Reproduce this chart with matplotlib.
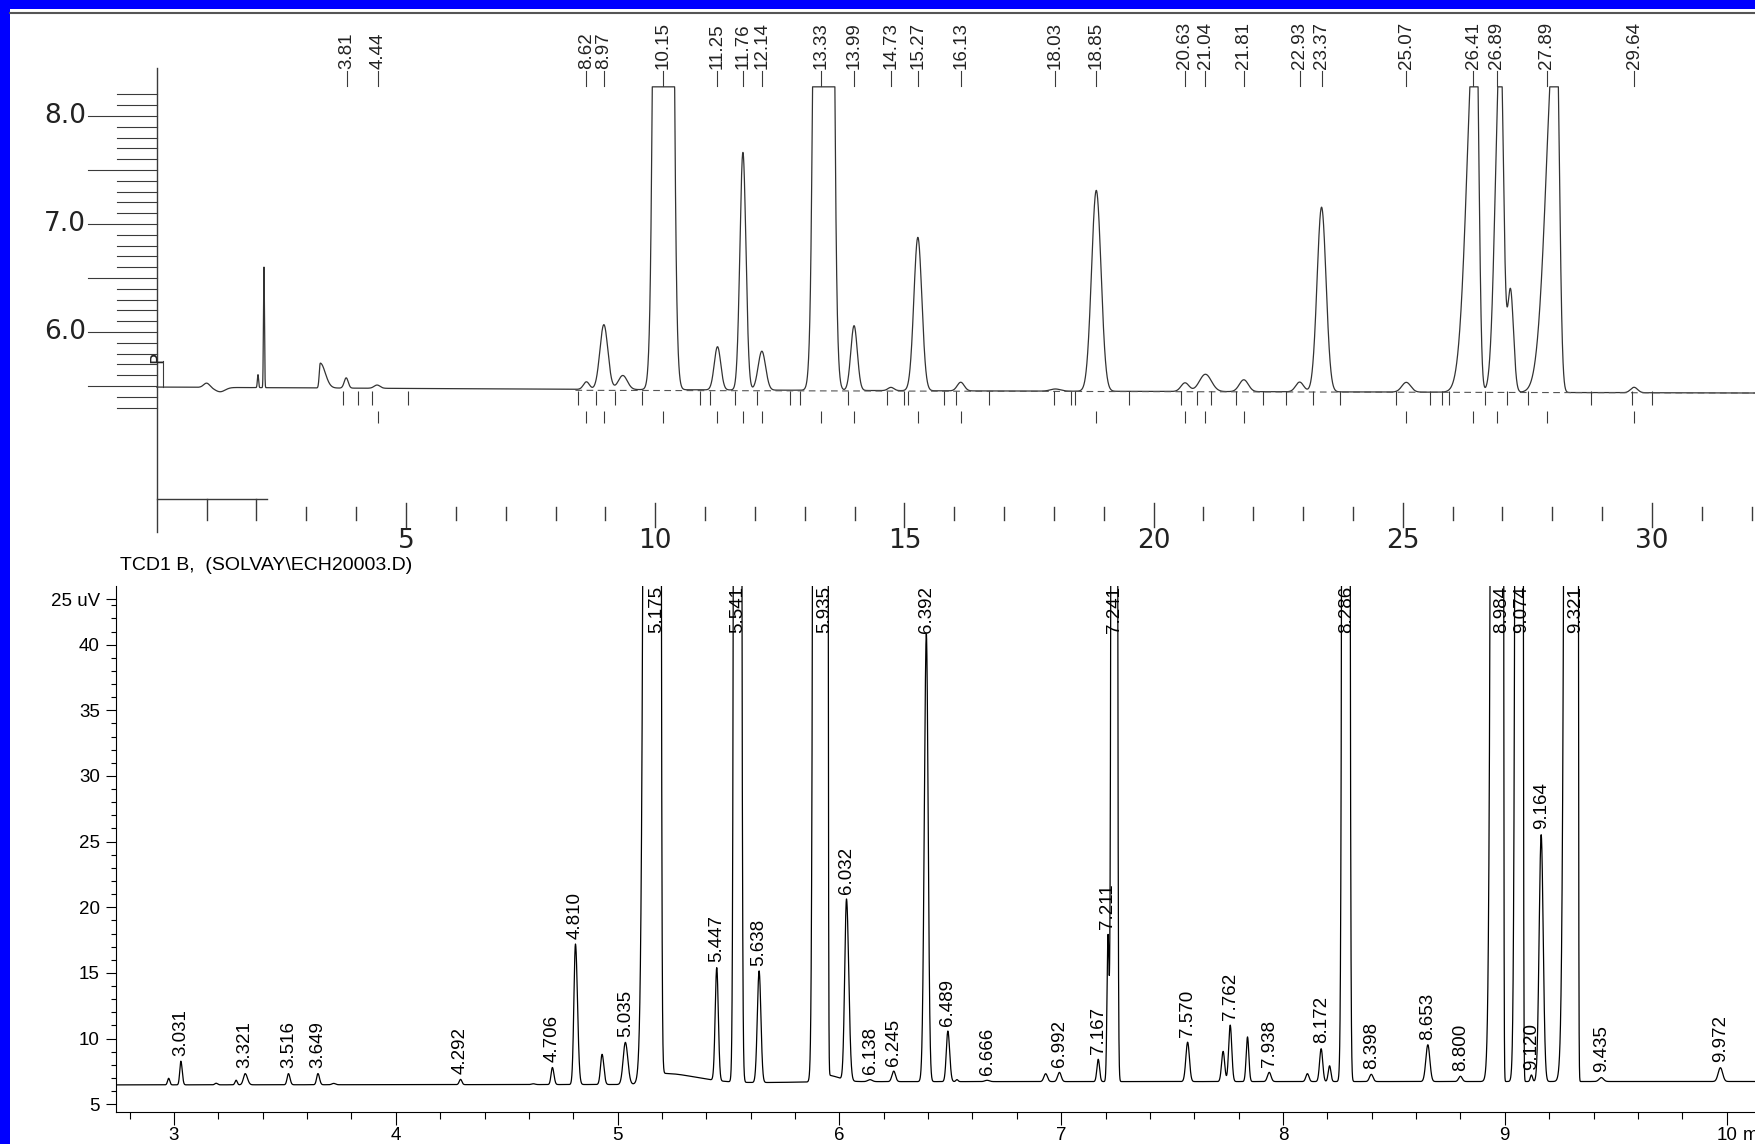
import numpy as np
import matplotlib
matplotlib.use("Agg")
import matplotlib.pyplot as plt
from matplotlib import font_manager
from matplotlib.patches import Rectangle
from matplotlib.lines import Line2D
from matplotlib.ticker import FixedLocator

# ---- upper chromatogram (scanned recorder trace), minutes vs signal ----
top_rt = [1.00, 1.27, 2.03, 2.15, 3.28, 3.80, 4.42, 8.62, 8.97, 9.35, 10.165, 11.25,
          11.76, 12.14, 13.38, 13.99, 14.73, 15.27, 16.13, 18.03, 18.85, 20.63, 21.04,
          21.81, 22.93, 23.37, 25.07, 26.47, 26.96, 27.16, 28.08, 29.64]
top_height = [0.04, -0.04, 0.12, 1.12, 0.23, 0.095, 0.03, 0.07, 0.6, 0.13, 47.0, 0.4,
              2.2, 0.36, 47.0, 0.6, 0.03, 1.42, 0.08, 0.02, 1.86, 0.08, 0.16,
              0.11, 0.09, 1.71, 0.09, 3.7, 3.3, 0.95, 3.6, 0.05]
top_sig_l = [0.06, 0.1, 0.012, 0.01, 0.02, 0.04, 0.06, 0.06, 0.08, 0.09, 0.095, 0.065,
             0.06, 0.075, 0.095, 0.065, 0.06, 0.08, 0.07, 0.1, 0.095, 0.08, 0.12,
             0.09, 0.08, 0.09, 0.09, 0.17, 0.1, 0.06, 0.19, 0.07]
top_sig_r = [0.06, 0.1, 0.012, 0.01, 0.1, 0.04, 0.06, 0.06, 0.08, 0.09, 0.095, 0.065,
             0.06, 0.075, 0.095, 0.065, 0.06, 0.08, 0.07, 0.1, 0.095, 0.08, 0.12,
             0.09, 0.08, 0.09, 0.09, 0.055, 0.06, 0.06, 0.06, 0.07]
top_base_t = [0, 8, 16, 32.1]
top_base_v = [5.49, 5.47, 5.455, 5.435]
top_clip = 8.27
top_labels = [3.81, 4.44, 8.62, 8.97, 10.15, 11.25, 11.76, 12.14, 13.33, 13.99, 14.73,
              15.27, 16.13, 18.03, 18.85, 20.63, 21.04, 21.81, 22.93, 23.37, 25.07,
              26.41, 26.89, 27.89, 29.64]
top_events = [3.73, 4.04, 4.31, 5.04, 8.46, 8.82, 9.2, 9.74, 10.89, 11.1, 11.61, 12.05,
              12.7, 12.91, 13.86, 14.65, 15.0, 15.08, 15.8, 16.04, 16.7, 18.0, 18.35,
              18.43, 19.5, 20.54, 20.88, 21.16, 21.65, 22.2, 22.66, 23.2, 23.75, 24.86,
              25.54, 25.78, 25.93, 26.65, 27.09, 27.52, 28.77, 29.6, 30.0]
top_marks = [4.44, 8.62, 8.97, 10.15, 11.25, 11.76, 12.14, 13.33, 13.99, 15.27, 16.13,
             18.85, 20.63, 21.04, 21.81, 25.07, 26.41, 26.89, 27.89, 29.64]

# ---- lower chromatogram (TCD1 B) ----
bot_rt = [2.976, 3.031, 3.19, 3.28, 3.321, 3.516, 3.649, 3.72, 4.292, 4.62, 4.706, 4.810,
          4.93, 5.035, 5.175, 5.20, 5.447, 5.541, 5.638, 5.904, 5.94, 5.945, 6.032, 6.138,
          6.245, 6.392, 6.489, 6.53, 6.666, 6.93, 6.992, 7.167, 7.211, 7.241, 7.570,
          7.73, 7.762, 7.84, 7.938, 8.11, 8.172, 8.21, 8.286, 8.398, 8.653, 8.800,
          8.984, 9.074, 9.120, 9.164, 9.321, 9.435, 9.972]
bot_height = [0.5, 1.8, 0.12, 0.35, 0.85, 0.85, 0.85, 0.1, 0.4, 0.06, 1.3, 10.7,
              2.3, 3.2, 2000, 0.8, 8.6, 800, 8.5, 800, 800, 0.5, 13.8, 0.15,
              0.8, 34.1, 3.85, 0.15, 0.1, 0.6, 0.7, 1.7, 11.0, 600, 3.0,
              2.3, 4.3, 3.4, 0.7, 0.6, 2.5, 1.2, 800, 0.55, 2.8, 0.4,
              2000, 800, 0.5, 18.8, 2000, 0.3, 1.05]
bot_sig_l = [0.005, 0.005, 0.006, 0.005, 0.008, 0.006, 0.006, 0.008, 0.006, 0.008, 0.006, 0.007,
             0.007, 0.01, 0.022, 0.01, 0.007, 0.008, 0.008, 0.0104, 0.0104, 0.005, 0.008, 0.01,
             0.008, 0.009, 0.007, 0.005, 0.01, 0.008, 0.008, 0.006, 0.0045, 0.0075, 0.008,
             0.007, 0.007, 0.006, 0.008, 0.007, 0.007, 0.006, 0.009, 0.008, 0.009, 0.008,
             0.018, 0.012, 0.005, 0.009, 0.02, 0.01, 0.01]
bot_sig_r = [0.005, 0.006, 0.006, 0.005, 0.01, 0.007, 0.007, 0.008, 0.006, 0.008, 0.007, 0.009,
             0.008, 0.011, 0.008, 0.15, 0.007, 0.008, 0.008, 0.0104, 0.004, 0.05, 0.01, 0.01,
             0.008, 0.008, 0.008, 0.005, 0.01, 0.008, 0.008, 0.006, 0.0045, 0.006, 0.008,
             0.007, 0.007, 0.006, 0.008, 0.007, 0.007, 0.006, 0.007, 0.008, 0.009, 0.008,
             0.004, 0.004, 0.005, 0.009, 0.004, 0.01, 0.01]
bot_base_t = [2.7, 5.0, 6.0, 10.2]
bot_base_v = [6.47, 6.5, 6.72, 6.73]
bot_labels = [3.031, 3.321, 3.516, 3.649, 4.292, 4.706, 4.810, 5.035, 5.175, 5.447, 5.541,
              5.638, 5.935, 6.032, 6.138, 6.245, 6.392, 6.489, 6.666, 6.992, 7.167, 7.211,
              7.241, 7.570, 7.762, 7.938, 8.172, 8.286, 8.398, 8.653, 8.800, 8.984, 9.074,
              9.120, 9.164, 9.321, 9.435, 9.972]


def peaks(t, rts, hts, sl, sr):
    y = np.zeros_like(t)
    for c, h, a, b in zip(rts, hts, sl, sr):
        s = np.where(t < c, a, b)
        y += h * np.exp(-0.5 * ((t - c) / s) ** 2)
    return y


# narrow font for the recorder labels if one is installed
installed = {f.name for f in font_manager.fontManager.ttflist}
if "Liberation Sans Narrow" in installed:
    narrow, narrow_size = "Liberation Sans Narrow", 15
else:
    narrow, narrow_size = "Liberation Sans", 13.5

W, H = 1756, 1144
fig = plt.figure(figsize=(W / 100, H / 100), dpi=100, facecolor="#0000ff")
fig.patches.append(Rectangle((10 / W, 0), 1, 1 - 9 / H, transform=fig.transFigure,
                             facecolor="white", edgecolor="none", zorder=-10))
fig.add_artist(Line2D([10 / W, 1], [1 - 12.5 / H] * 2, color="#555555", lw=1.5, zorder=-5))

# ---------------- upper panel ----------------
PX = 49.84          # pixels per minute
def V(ypx):         # pixel row -> signal value of the scanned plot
    return 8 - (ypx - 116) / 108.0

ax1 = fig.add_axes([10 / W, 1 - 548 / H, 1 - 10 / W, (548 - 12) / H])
ax1.set_xlim((10 - 156.8) / PX, (W - 156.8) / PX)
ax1.set_ylim(V(548), V(12))
ax1.axis("off")
ink = "#3a3a3a"

t1 = np.linspace(0, 32.1, 16000)
y1 = np.interp(t1, top_base_t, top_base_v) + peaks(t1, top_rt, top_height, top_sig_l, top_sig_r)
ax1.plot(t1, np.minimum(y1, top_clip), color="#333333", lw=0.9)
ax1.plot([8.4, 32.1], [5.46, 5.435], color="#555555", lw=0.8, ls=(0, (6, 4)))

# y axis with recorder ticks
ax1.plot([0, 0], [V(68), V(532)], color=ink, lw=1.0)
for v in np.round(np.arange(5.3, 8.25, 0.1), 1):
    start = (88 - 156.8) / PX if abs(v * 2 - round(v * 2)) < 1e-6 else (117 - 156.8) / PX
    ax1.plot([start, 0], [v, v], color=ink, lw=0.8)
for v in (6.0, 7.0, 8.0):
    ax1.text((86 - 156.8) / PX, v, "%.1f" % v, ha="right", va="center", fontsize=19,
             family="DejaVu Sans", color="#222222")

# x axis
ax1.plot([0, 2.21], [V(499)] * 2, color=ink, lw=1.0)
for m in range(1, 33):
    if m <= 2:
        lo, hi = V(520), V(499)
    elif m % 5 == 0:
        lo, hi = V(527), V(503)
    else:
        lo, hi = V(520), V(507)
    ax1.plot([m, m], [lo, hi], color=ink, lw=1.0)
for m in range(5, 31, 5):
    ax1.text(m, V(541), str(m), ha="center", va="center", fontsize=19,
             family="DejaVu Sans", color="#222222")

# retention-time labels and integration marks
for r in top_labels:
    ax1.plot([r, r], [V(86), V(71)], color=ink, lw=0.8)
    ax1.text(r, V(69), "%.2f" % r, rotation=90, ha="center", va="bottom",
             fontsize=narrow_size, family=narrow, color="#222222")
ax1.vlines(top_events, V(405), V(391), color=ink, lw=0.8)
ax1.vlines(top_marks, V(423), V(411), color=ink, lw=0.8)
ax1.plot([0.12, 0.12], [V(387), V(361)], color=ink, lw=0.8)
ax1.text(0.0, V(358), "P", rotation=90, ha="center", va="center", fontsize=13,
         family="DejaVu Sans", color="#222222")

# ---------------- lower panel ----------------
XPX = 221.8
YPX = 13.13
def BX(xpx):
    return 3 + (xpx - 174) / XPX
def BV(ypx):
    return 5 + (1104.2 - ypx) / YPX

ax2 = fig.add_axes([116 / W, 1 - 1112 / H, (W - 116) / W, (1112 - 586) / H])
ax2.set_facecolor("none")
ax2.set_xlim(BX(116), BX(W))
ax2.set_ylim(BV(1112), BV(586))

t2 = np.linspace(BX(116), BX(W), 30000)
y2 = np.interp(t2, bot_base_t, bot_base_v) + peaks(t2, bot_rt, bot_height, bot_sig_l, bot_sig_r)
ax2.plot(t2, y2, color="black", lw=0.9)

lab = np.array(bot_labels)
apex = np.interp(lab, bot_base_t, bot_base_v) + peaks(lab, bot_rt, bot_height, bot_sig_l, bot_sig_r)
for r, a in zip(bot_labels, apex):
    ax2.text(r, min(a + 0.4, 40.9), "%.3f" % r, rotation=90, ha="center", va="bottom",
             fontsize=13.5, family="Liberation Sans", color="black")

for s in ("top", "right"):
    ax2.spines[s].set_visible(False)
for s in ("left", "bottom"):
    ax2.spines[s].set_linewidth(0.8)

ax2.set_xticks(range(3, 11))
ax2.set_xticklabels([str(i) for i in range(3, 11)])
ax2.xaxis.set_minor_locator(FixedLocator(np.round(np.arange(2.8, 10.1, 0.2), 1)))
ax2.set_yticks([5, 10, 15, 20, 25, 30, 35, 40, BV(599)])
ax2.set_yticklabels(["5", "10", "15", "20", "25", "30", "35", "40", "25 uV"])
ax2.yaxis.set_minor_locator(FixedLocator(range(6, 44)))
ax2.tick_params(axis="x", which="major", length=9.4, width=0.8, pad=1.5, labelsize=13.5)
ax2.tick_params(axis="x", which="minor", length=5, width=0.8)
ax2.tick_params(axis="y", which="major", length=7.2, width=0.8, pad=4.5, labelsize=13.5)
ax2.tick_params(axis="y", which="minor", length=3.6, width=0.8)
for lbl in ax2.get_xticklabels() + ax2.get_yticklabels():
    lbl.set_family("Liberation Sans")
fig.text((1727 + 16) / W, 1 - 1135 / H, "min", ha="left", va="center", fontsize=13.5,
         family="Liberation Sans")

fig.text(120 / W, 1 - 565 / H, "TCD1 B,  (SOLVAY\\ECH20003.D)", ha="left", va="center",
         fontsize=14, family="Liberation Sans")

fig.savefig("out.png", dpi=100, facecolor=fig.get_facecolor())
